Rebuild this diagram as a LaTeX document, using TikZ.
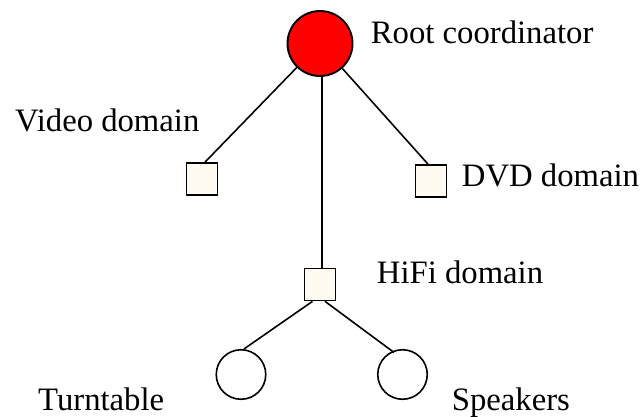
\documentclass[tikz,border=0pt]{standalone}
\usepackage{fontspec}
\setmainfont{Liberation Serif}
\definecolor{rootred}{RGB}{255,0,0}
\definecolor{domfill}{RGB}{255,251,240}
\begin{document}
\begin{tikzpicture}[x=1pt,y=-1pt,
  link/.style={draw=black,line width=1.6pt},
  rootnode/.style={circle,draw=black,line width=1.9pt,fill=rootred,minimum size=65pt,inner sep=0pt},
  domainbox/.style={rectangle,draw=black,line width=1.7pt,fill=domfill,minimum width=31pt,minimum height=32pt,inner sep=0pt},
  device/.style={circle,draw=black,line width=1.6pt,fill=white,minimum size=49.5pt,inner sep=0pt},
  lbl/.style={anchor=base west,inner sep=0pt,font=\fontsize{32.7}{39}\selectfont}]
\useasboundingbox (0,0) rectangle (642,417);

% nodes
\node[rootnode] (root) at (320,43.5) {};
\node[domainbox] (video) at (202,179) {};
\node[domainbox] (dvd) at (431,181) {};
\node[domainbox] (hifi) at (320,284.5) {};
\node[device] (turn) at (241,374.5) {};
\node[device] (spk) at (402.5,374.5) {};

% labels
\node[lbl] (lroot) at (370.7,43.3) {Root coordinator};
\node[lbl] (lvideo) at (15,131.7) {Video domain};
\node[lbl] (ldvd) at (461.7,186.7) {DVD domain};
\node[lbl] (lhifi) at (376.7,283.3) {HiFi domain};
\node[lbl] (lturn) at (38,410) {Turntable};
\node[lbl] (lspk) at (451.7,410.7) {Speakers};

% connectors
\draw[link] (root) -- ([xshift=3pt]video.north);
\draw[link] (root) -- ([xshift=-3pt]dvd.north);
\draw[link] ([xshift=2pt]root.south) -- ([xshift=2pt]hifi.north);
\draw[link] ([xshift=-7.5pt]hifi.south) -- ([xshift=3pt]turn.north);
\draw[link] ([xshift=5pt]hifi.south) -- ([xshift=-8.5pt,yshift=-3.5pt]spk.north);
\end{tikzpicture}
\end{document}
